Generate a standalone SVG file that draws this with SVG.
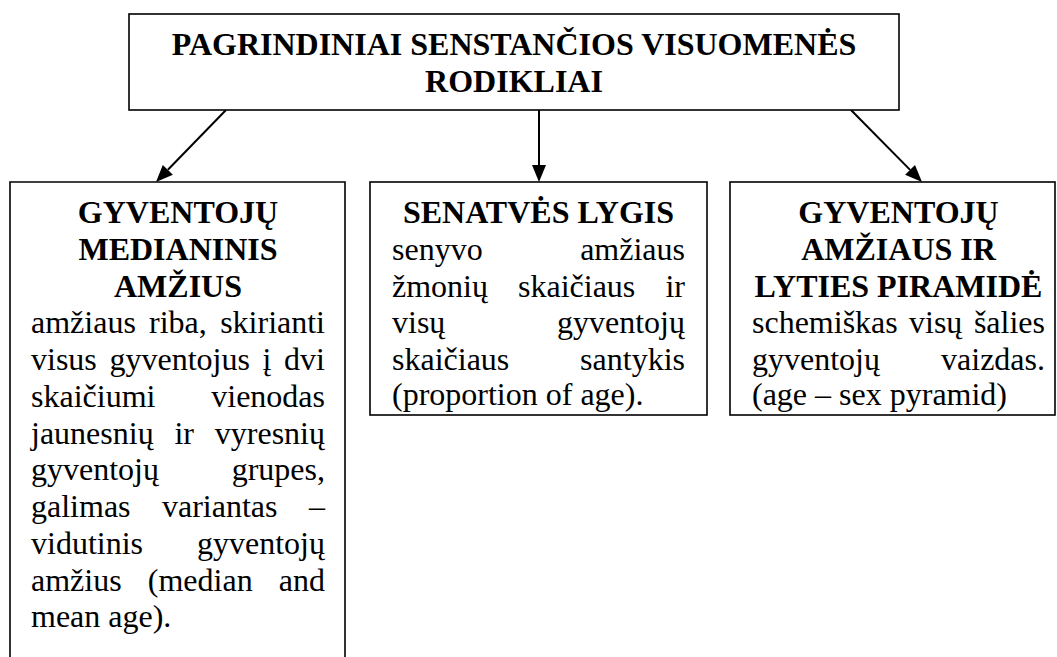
<svg xmlns="http://www.w3.org/2000/svg" width="1057" height="657" viewBox="0 0 1057 657">
<rect width="1057" height="657" fill="#fff"/>
<g id="connectors" stroke="#000" stroke-width="2">
<line x1="226" y1="110" x2="167.9" y2="169.8"/>
<polygon points="156,182 172.9,174.7 162.8,164.9" fill="#000" stroke="none"/>
<line x1="539" y1="110" x2="539" y2="165"/>
<polygon points="539,182 532,165 546,165" fill="#000" stroke="none"/>
<line x1="851" y1="110" x2="910.1" y2="169.9"/>
<polygon points="922,182 905.1,174.8 915,165" fill="#000" stroke="none"/>
</g>
<g id="top">
<rect x="129" y="14" width="770" height="96" fill="#fff" stroke="#000" stroke-width="1.6"/>
<text font-family="'Times New Roman', 'Liberation Serif', serif" font-size="32" font-weight="bold" text-anchor="middle" x="514" y="55">PAGRINDINIAI SENSTANČIOS VISUOMENĖS</text>
<text font-family="'Times New Roman', 'Liberation Serif', serif" font-size="32" font-weight="bold" text-anchor="middle" x="514" y="92">RODIKLIAI</text>
</g>
<g id="median">
<path d="M10,657 V182 H345 V657" fill="#fff" stroke="#000" stroke-width="1.6"/>
<text font-family="'Times New Roman', 'Liberation Serif', serif" font-size="32" font-weight="bold" text-anchor="middle" x="178" y="223">GYVENTOJŲ</text>
<text font-family="'Times New Roman', 'Liberation Serif', serif" font-size="32" font-weight="bold" text-anchor="middle" x="178" y="259.75">MEDIANINIS</text>
<text font-family="'Times New Roman', 'Liberation Serif', serif" font-size="32" font-weight="bold" text-anchor="middle" x="178" y="296.5">AMŽIUS</text>
<text font-family="'Times New Roman', 'Liberation Serif', serif" font-size="32" y="333.25"><tspan x="31">amžiaus</tspan><tspan x="149">riba,</tspan></text>
<text font-family="'Times New Roman', 'Liberation Serif', serif" font-size="32" text-anchor="end" x="325" y="333.25">skirianti</text>
<text font-family="'Times New Roman', 'Liberation Serif', serif" font-size="32" y="370"><tspan x="31">visus</tspan><tspan x="109.5">gyventojus</tspan><tspan x="262.6">į</tspan></text>
<text font-family="'Times New Roman', 'Liberation Serif', serif" font-size="32" text-anchor="end" x="325" y="370">dvi</text>
<text font-family="'Times New Roman', 'Liberation Serif', serif" font-size="32" x="31" y="406.75">skaičiumi</text>
<text font-family="'Times New Roman', 'Liberation Serif', serif" font-size="32" text-anchor="end" x="325" y="406.75">vienodas</text>
<text font-family="'Times New Roman', 'Liberation Serif', serif" font-size="32" y="443.5"><tspan x="31">jaunesnių</tspan><tspan x="174.4">ir</tspan></text>
<text font-family="'Times New Roman', 'Liberation Serif', serif" font-size="32" text-anchor="end" x="325" y="443.5">vyresnių</text>
<text font-family="'Times New Roman', 'Liberation Serif', serif" font-size="32" x="31" y="480.25">gyventojų</text>
<text font-family="'Times New Roman', 'Liberation Serif', serif" font-size="32" text-anchor="end" x="325" y="480.25">grupes,</text>
<text font-family="'Times New Roman', 'Liberation Serif', serif" font-size="32" y="517"><tspan x="31">galimas</tspan><tspan x="162">variantas</tspan></text>
<text font-family="'Times New Roman', 'Liberation Serif', serif" font-size="32" text-anchor="end" x="325" y="517">–</text>
<text font-family="'Times New Roman', 'Liberation Serif', serif" font-size="32" x="31" y="553.75">vidutinis</text>
<text font-family="'Times New Roman', 'Liberation Serif', serif" font-size="32" text-anchor="end" x="325" y="553.75">gyventojų</text>
<text font-family="'Times New Roman', 'Liberation Serif', serif" font-size="32" y="590.5"><tspan x="31">amžius</tspan><tspan x="147.8">(median</tspan></text>
<text font-family="'Times New Roman', 'Liberation Serif', serif" font-size="32" text-anchor="end" x="325" y="590.5">and</text>
<text font-family="'Times New Roman', 'Liberation Serif', serif" font-size="32" x="31" y="627.25">mean age).</text>
</g>
<g id="senatve">
<rect x="370" y="182" width="337" height="233" fill="#fff" stroke="#000" stroke-width="1.6"/>
<text font-family="'Times New Roman', 'Liberation Serif', serif" font-size="32" font-weight="bold" text-anchor="middle" x="538.5" y="223">SENATVĖS LYGIS</text>
<text font-family="'Times New Roman', 'Liberation Serif', serif" font-size="32" x="392" y="259.75">senyvo</text>
<text font-family="'Times New Roman', 'Liberation Serif', serif" font-size="32" text-anchor="end" x="685" y="259.75">amžiaus</text>
<text font-family="'Times New Roman', 'Liberation Serif', serif" font-size="32" y="296.5"><tspan x="392">žmonių</tspan><tspan x="518">skaičiaus</tspan></text>
<text font-family="'Times New Roman', 'Liberation Serif', serif" font-size="32" text-anchor="end" x="685" y="296.5">ir</text>
<text font-family="'Times New Roman', 'Liberation Serif', serif" font-size="32" x="392" y="333.25">visų</text>
<text font-family="'Times New Roman', 'Liberation Serif', serif" font-size="32" text-anchor="end" x="685" y="333.25">gyventojų</text>
<text font-family="'Times New Roman', 'Liberation Serif', serif" font-size="32" x="392" y="370">skaičiaus</text>
<text font-family="'Times New Roman', 'Liberation Serif', serif" font-size="32" text-anchor="end" x="685" y="370">santykis</text>
<text font-family="'Times New Roman', 'Liberation Serif', serif" font-size="32" x="392" y="405">(proportion of age).</text>
</g>
<g id="piramide">
<rect x="730" y="182" width="325" height="233" fill="#fff" stroke="#000" stroke-width="1.6"/>
<text font-family="'Times New Roman', 'Liberation Serif', serif" font-size="32" font-weight="bold" text-anchor="middle" x="898.5" y="223">GYVENTOJŲ</text>
<text font-family="'Times New Roman', 'Liberation Serif', serif" font-size="32" font-weight="bold" text-anchor="middle" x="898.5" y="259.75">AMŽIAUS IR</text>
<text font-family="'Times New Roman', 'Liberation Serif', serif" font-size="32" font-weight="bold" text-anchor="middle" x="898.5" y="296.5">LYTIES PIRAMIDĖ</text>
<text font-family="'Times New Roman', 'Liberation Serif', serif" font-size="32" y="333.25"><tspan x="752">schemiškas</tspan><tspan x="909">visų</tspan></text>
<text font-family="'Times New Roman', 'Liberation Serif', serif" font-size="32" text-anchor="end" x="1045" y="333.25">šalies</text>
<text font-family="'Times New Roman', 'Liberation Serif', serif" font-size="32" x="752" y="370">gyventojų</text>
<text font-family="'Times New Roman', 'Liberation Serif', serif" font-size="32" text-anchor="end" x="1045" y="370">vaizdas.</text>
<text font-family="'Times New Roman', 'Liberation Serif', serif" font-size="32" x="752" y="405">(age – sex pyramid)</text>
</g>
</svg>
